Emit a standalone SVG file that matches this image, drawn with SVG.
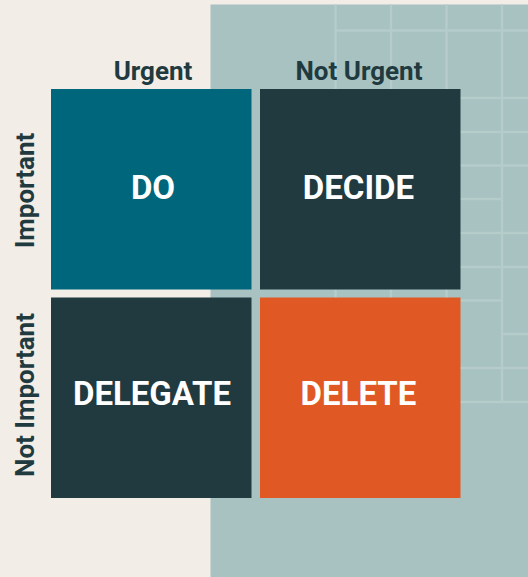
<svg xmlns="http://www.w3.org/2000/svg" width="528" height="577" viewBox="0 0 528 577">
<style>
.grid line{stroke:#b5cccb;stroke-width:2.5}
.box{stroke:none}
.lbl{font-family:Roboto,"Liberation Sans",sans-serif;font-weight:700;font-size:33px;fill:#ffffff;text-anchor:middle}
.axis{font-family:Roboto,"Liberation Sans",sans-serif;font-weight:700;font-size:26px;fill:#203a40;text-anchor:middle}
</style>
<rect x="0" y="0" width="528" height="577" fill="#f2ede6"/>
<rect x="210.5" y="4.5" width="317.5" height="572.5" fill="#a7c2c1"/>
<g class="grid">
<line x1="335.5" y1="4.5" x2="335.5" y2="402"/>
<line x1="391" y1="4.5" x2="391" y2="402"/>
<line x1="446.5" y1="4.5" x2="446.5" y2="402"/>
<line x1="502" y1="4.5" x2="502" y2="402"/>
<line x1="335" y1="30.5" x2="528" y2="30.5"/>
<line x1="335" y1="98" x2="528" y2="98"/>
<line x1="335" y1="132" x2="528" y2="132"/>
<line x1="335" y1="165.5" x2="528" y2="165.5"/>
<line x1="335" y1="199" x2="502" y2="199"/>
<line x1="335" y1="233" x2="528" y2="233"/>
<line x1="335" y1="267" x2="528" y2="267"/>
<line x1="335" y1="300.5" x2="502" y2="300.5"/>
<line x1="502" y1="334" x2="528" y2="334"/>
<line x1="335" y1="368" x2="528" y2="368"/>
<line x1="335" y1="402" x2="528" y2="402"/>
</g>
<g id="axis-urgent"><text class="axis" x="153" y="80">Urgent</text></g>
<g id="axis-not-urgent"><text class="axis" x="359" y="80">Not Urgent</text></g>
<g id="axis-important"><text class="axis" transform="translate(34 190.5) rotate(-90)">Important</text></g>
<g id="axis-not-important"><text class="axis" transform="translate(34 395) rotate(-90)">Not Important</text></g>
<g id="do"><rect class="box" x="51" y="89" width="200.5" height="200.5" fill="#00667c"/><text class="lbl" x="153" y="199">DO</text></g>
<g id="decide"><rect class="box" x="260" y="89" width="200.5" height="200.5" fill="#203a40"/><text class="lbl" x="358.5" y="199">DECIDE</text></g>
<g id="delegate"><rect class="box" x="51" y="297.5" width="200.5" height="200.5" fill="#203a40"/><text class="lbl" x="152" y="404.5">DELEGATE</text></g>
<g id="delete"><rect class="box" x="260" y="297.5" width="200.5" height="200.5" fill="#e05823"/><text class="lbl" x="358.5" y="404.5">DELETE</text></g>
<g id="connectors"/>
</svg>
